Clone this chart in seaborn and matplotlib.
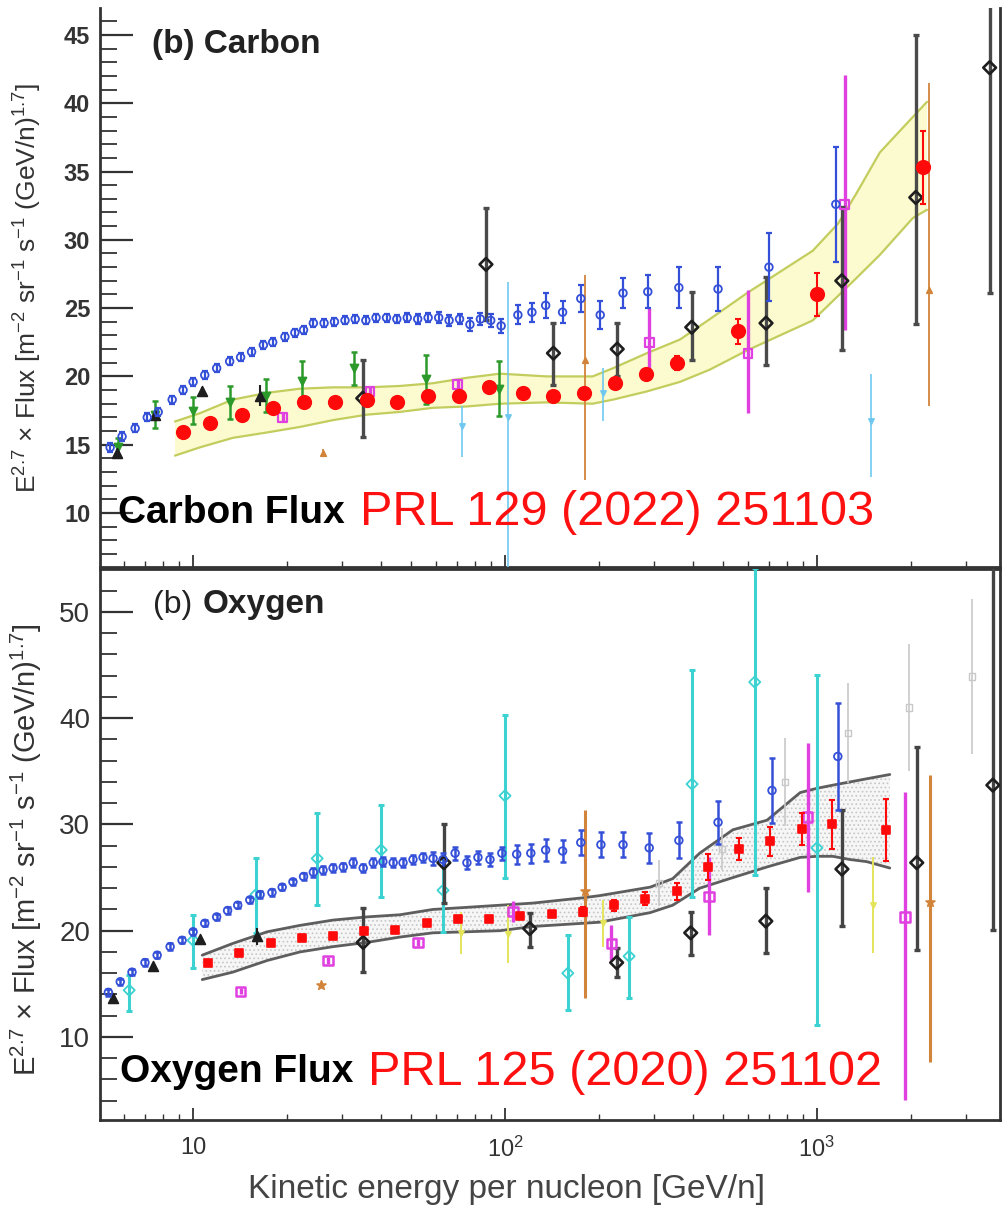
import matplotlib
matplotlib.use("Agg")
import matplotlib.pyplot as plt
import seaborn as sns
import pandas as pd
from matplotlib.ticker import MultipleLocator, LogLocator, NullFormatter, FixedLocator, FixedFormatter

sns.set_style("ticks")
plt.rcParams['font.family'] = ['Liberation Sans', 'DejaVu Sans']
plt.rcParams['mathtext.fontset'] = 'custom'
plt.rcParams['mathtext.rm'] = 'Liberation Sans'
plt.rcParams['mathtext.it'] = 'Liberation Sans:italic'
plt.rcParams['mathtext.bf'] = 'Liberation Sans:bold'
plt.rcParams['hatch.linewidth'] = 0.7
plt.rcParams['hatch.color'] = '#c4c4c4'

# ======================= CARBON PANEL DATA =======================
c_ams_E = [5.42, 5.92, 6.52, 7.13, 7.73, 8.57, 9.29, 10.0, 10.9, 11.9, 13.1, 14.2, 15.4, 16.8, 18.0, 19.7, 21.2, 22.6,
           24.3, 26.3, 28.4, 30.7, 33.1, 35.8, 38.6, 41.7, 45.0, 48.6, 52.5, 56.7, 61.3, 66.2, 71.5, 77.2, 83.4, 90.0, 97.2,
           110, 122, 135, 153, 175, 202, 239, 287, 361, 482, 702, 1150]
c_ams_v = [14.8, 15.6, 16.2, 17.0, 17.4, 18.3, 19.0, 19.6, 20.1, 20.6, 21.1, 21.4, 21.8, 22.3, 22.5, 22.9, 23.2, 23.4,
           23.9, 23.9, 24.0, 24.1, 24.2, 24.1, 24.3, 24.3, 24.2, 24.3, 24.2, 24.3, 24.3, 24.1, 24.2, 23.8, 24.2, 24.1, 23.7,
           24.5, 24.7, 25.2, 24.7, 25.7, 24.5, 26.1, 26.2, 26.5, 26.4, 28.0, 32.6]
c_ams_err = [0.3, 0.3, 0.3, 0.3, 0.3, 0.3, 0.3, 0.3, 0.3, 0.3, 0.3, 0.3, 0.3, 0.3, 0.3, 0.3, 0.3, 0.3,
             0.3, 0.3, 0.3, 0.3, 0.3, 0.3, 0.3, 0.3, 0.3, 0.35, 0.35, 0.35, 0.4, 0.4, 0.4, 0.45, 0.45, 0.5, 0.5,
             0.7, 0.7, 0.9, 0.8, 1.0, 1.0, 1.1, 1.2, 1.5, 1.6, 2.5, 4.2]

c_dampe_E = [9.29, 11.3, 14.4, 18.0, 22.6, 28.5, 36.1, 45.1, 56.6, 71.3, 89.0, 114, 143, 179, 225, 283, 356, 558, 1000, 2190]
c_dampe_v = [15.9, 16.6, 17.2, 17.7, 18.1, 18.1, 18.3, 18.1, 18.6, 18.6, 19.2, 18.8, 18.6, 18.8, 19.5, 20.2, 21.0, 23.3, 26.0, 35.3]
c_dampe_err = [0.1, 0.1, 0.1, 0.1, 0.1, 0.1, 0.1, 0.1, 0.1, 0.1, 0.15, 0.2, 0.2, 0.25, 0.3, 0.35, 0.5, 0.9, 1.6, 2.7]

c_band_E = [8.75, 10.5, 13.4, 17.3, 22.0, 28.1, 36.1, 46.0, 58.7, 75.5, 96.4, 136, 191, 222, 285, 364, 454, 597, 970, 1170, 1339, 1592, 2032, 2254]
c_band_hi = [16.7, 17.3, 18.3, 18.8, 19.1, 19.2, 19.2, 19.3, 19.5, 19.9, 20.2, 20.0, 20.0, 20.6, 21.7, 22.7, 24.2, 26.1, 29.2, 31.2, 33.4, 36.4, 39.0, 40.1]
c_band_lo = [14.2, 14.8, 15.5, 15.9, 16.3, 16.8, 17.2, 17.4, 17.7, 17.8, 18.0, 18.1, 18.0, 18.3, 18.9, 19.6, 20.5, 21.9, 24.1, 25.9, 27.2, 28.9, 31.6, 32.2]

c_green_E = [5.75, 7.55, 10.0, 13.1, 17.1, 22.3, 32.8, 55.8, 95.7]
c_green_v = [14.8, 17.2, 17.5, 18.1, 18.6, 19.7, 20.6, 19.8, 19.1]
c_green_err = [0.7, 1.0, 1.0, 1.2, 1.2, 1.4, 1.2, 1.8, 2.0]

c_tri_E = [5.7, 7.55, 10.7, 16.4]
c_tri_v = [14.4, 17.2, 18.9, 18.6]
c_tri_err = [0.3, 0.3, 0.3, 0.8]

c_dia_E = [35.0, 86.9, 143, 229, 397, 687, 1202, 2075, 3580]
c_dia_v = [18.4, 28.2, 21.7, 22.0, 23.6, 23.9, 27.0, 33.1, 42.6]
c_dia_lo = [2.8, 4.1, 2.3, 2.0, 2.4, 3.1, 5.1, 9.3, 16.5]
c_dia_hi = [2.8, 4.1, 2.2, 1.9, 2.6, 3.4, 5.4, 11.9, 12.0]

c_mag_E = [19.4, 36.9, 70.6, 290, 601, 1228]
c_mag_v = [17.0, 18.9, 19.4, 22.5, 21.7, 32.6]
c_mag_lo = [0.3, 0.3, 0.3, 2.4, 4.4, 9.2]
c_mag_hi = [0.3, 0.3, 0.4, 2.5, 4.6, 9.5]

c_sky_E = [72.8, 102, 206, 1490]
c_sky_v = [16.4, 17.0, 18.8, 16.7]
c_sky_lo = [2.3, 11.5, 2.1, 4.1]
c_sky_hi = [1.4, 9.9, 1.8, 3.5]

c_org_E = [26.1, 180, 2286]
c_org_v = [14.4, 21.2, 26.3]
c_org_lo = [0.3, 8.8, 8.5]
c_org_hi = [0.3, 6.2, 15.2]

# ======================= OXYGEN PANEL DATA =======================
o_ams_E = [5.35, 5.84, 6.37, 7.01, 7.67, 8.44, 9.22, 10.0, 10.9, 11.9, 12.9, 13.9, 15.2, 16.4, 17.9, 19.3, 20.9, 22.6,
           24.3, 26.1, 28.1, 30.3, 32.6, 35.1, 37.8, 40.6, 43.8, 47.1, 50.7, 54.6, 58.8, 63.3, 69.2, 75.5, 81.9, 89.5, 97.7,
           109, 121, 135, 153, 175, 203, 239, 290, 361, 482, 718, 1167]
o_ams_v = [14.2, 15.2, 16.1, 17.0, 17.7, 18.5, 19.1, 19.9, 20.7, 21.3, 21.9, 22.4, 22.9, 23.4, 23.6, 24.1, 24.6, 25.1,
           25.5, 25.7, 25.9, 26.0, 26.4, 25.9, 26.4, 26.5, 26.4, 26.4, 26.7, 26.9, 26.8, 26.7, 27.3, 26.4, 26.9, 26.7, 27.3,
           27.2, 27.3, 27.6, 27.5, 28.3, 28.1, 28.1, 27.8, 28.5, 30.2, 33.2, 36.4]
o_ams_err = [0.3, 0.3, 0.3, 0.3, 0.3, 0.3, 0.3, 0.3, 0.3, 0.3, 0.3, 0.3, 0.3, 0.3, 0.3, 0.3, 0.3, 0.3,
             0.4, 0.4, 0.4, 0.4, 0.4, 0.4, 0.4, 0.4, 0.4, 0.4, 0.4, 0.4, 0.6, 0.6, 0.6, 0.6, 0.6, 0.6, 0.6,
             0.9, 0.9, 1.0, 1.0, 1.2, 1.2, 1.2, 1.4, 1.7, 2.0, 3.1, 5.0]

o_dampe_E = [11.2, 14.0, 17.8, 22.3, 28.1, 35.3, 44.4, 56.2, 70.7, 89.0, 112, 142, 178, 223, 281, 356, 447, 562, 707, 895, 1117, 1664]
o_dampe_v = [17.0, 17.9, 18.8, 19.3, 19.5, 20.0, 20.1, 20.7, 21.1, 21.1, 21.4, 21.6, 21.8, 22.4, 23.0, 23.7, 26.0, 27.7, 28.4, 29.6, 30.0, 29.5]
o_dampe_err = [0.2, 0.2, 0.2, 0.2, 0.2, 0.2, 0.2, 0.3, 0.3, 0.3, 0.3, 0.3, 0.4, 0.5, 0.6, 0.8, 1.2, 1.0, 1.4, 1.5, 2.3, 2.9]

o_band_E = [10.7, 13.4, 17.3, 22.0, 28.1, 36.1, 46.0, 58.7, 75.5, 96.4, 123, 178, 201, 292, 345, 421, 538, 692, 884, 1000, 1125, 1276, 1445, 1713]
o_band_hi = [17.7, 18.8, 19.9, 20.5, 21.0, 21.3, 21.5, 22.0, 22.2, 22.4, 22.6, 23.1, 23.3, 24.1, 24.9, 27.3, 29.5, 30.4, 33.0, 33.4, 33.7, 34.0, 34.3, 34.7]
o_band_lo = [15.4, 16.1, 17.2, 18.0, 18.5, 18.9, 19.4, 19.8, 19.9, 20.0, 20.4, 20.7, 20.8, 21.7, 22.4, 24.0, 25.0, 26.0, 26.9, 27.0, 27.0, 26.7, 26.5, 25.9]

o_tri_E = [5.55, 7.45, 10.5, 16.0]
o_tri_v = [13.7, 16.7, 19.2, 19.5]
o_tri_err = [0.3, 0.3, 0.3, 0.8]

o_dia_E = [35.1, 63.7, 120, 228, 394, 686, 1203, 2090, 3666]
o_dia_v = [18.9, 26.4, 20.2, 17.0, 19.8, 20.9, 25.8, 26.4, 33.7]
o_dia_lo = [2.8, 3.8, 1.7, 1.4, 2.1, 3.0, 5.4, 8.2, 13.6]
o_dia_hi = [3.2, 3.6, 1.5, 1.4, 2.0, 3.1, 5.6, 10.9, 21.0]

o_cyan_E = [6.24, 10.0, 15.9, 25.0, 40.1, 63.3, 100, 159, 250, 398, 632, 1000]
o_cyan_v = [14.4, 19.1, 23.4, 26.8, 27.6, 23.8, 32.7, 16.0, 17.6, 33.8, 43.4, 27.8]
o_cyan_lo = [2.0, 2.6, 3.6, 4.4, 4.4, 3.9, 7.7, 3.5, 3.9, 10.6, 18.2, 16.7]
o_cyan_hi = [1.4, 2.4, 3.4, 4.3, 4.2, 3.0, 7.6, 3.6, 3.7, 10.7, 10.7, 16.3]

o_mag_E = [14.2, 27.1, 52.6, 106, 219, 451, 935, 1915]
o_mag_v = [14.3, 17.2, 18.9, 21.8, 18.8, 23.2, 30.7, 21.3]
o_mag_lo = [0.3, 0.3, 0.3, 1.0, 1.6, 3.6, 7.1, 17.2]
o_mag_hi = [0.3, 0.3, 0.3, 1.0, 1.7, 3.7, 7.0, 11.8]

o_org_E = [25.7, 180, 2300]
o_org_v = [14.9, 23.7, 22.7]
o_org_lo = [0.3, 10.0, 15.1]
o_org_hi = [0.3, 7.7, 12.0]

o_yel_E = [72.3, 102, 206, 1511]
o_yel_v = [19.8, 19.7, 20.7, 22.4]
o_yel_err = [2.0, 2.7, 2.2, 4.5]

o_grey_E = [312, 497, 789, 1256, 1972, 3140]
o_grey_v = [24.5, 27.7, 34.0, 38.6, 41.0, 43.9]
o_grey_err = [2.2, 2.0, 4.1, 4.7, 6.0, 7.3]

# ======================= STYLE =======================
BLUE = '#3550d8'
RED = '#ff0a0a'
GREEN = '#2b9a2b'
BLACK = '#1e1e1e'
MAG = '#e040e0'
SKY = '#70c8f0'
CYAN = '#3cd2d2'
ORANGE = '#d2843a'
YEL = '#e4e45a'
GREY = '#c8c8c8'
AXC = '#333333'


def points(ax, E, v, lo, hi, color, marker, s, filled=True, lw=1.2, elw=1.5,
           ecolor=None, cap=0.0, z=4):
    ax.errorbar(E, v, yerr=[lo, hi], fmt='none', ecolor=ecolor or color,
                elinewidth=elw, capsize=cap, capthick=elw, zorder=z)
    df = pd.DataFrame({'E': E, 'v': v})
    if filled:
        sns.scatterplot(data=df, x='E', y='v', ax=ax, marker=marker, s=s,
                        color=color, edgecolor=color, linewidth=lw,
                        zorder=z + 0.5, legend=False)
    else:
        sns.scatterplot(data=df, x='E', y='v', ax=ax, marker=marker, s=s,
                        color=color, facecolor='none', edgecolor=color,
                        linewidth=lw, zorder=z + 0.5, legend=False)


fig = plt.figure(figsize=(10.03, 12.13), dpi=100)
ax1 = fig.add_axes([0.0997, 0.5326, 0.8973, 0.4608])
ax2 = fig.add_axes([0.0997, 0.0767, 0.8973, 0.4543])

for ax in (ax1, ax2):
    ax.set_xscale('log')
    ax.set_xlim(5.03, 3864)

ax1.set_ylim(6.05, 46.97)
ax2.set_ylim(2.19, 54.05)

# ---------------- Carbon panel ----------------
ax1.fill_between(c_band_E, c_band_lo, c_band_hi, facecolor='#fbfbcf', edgecolor='none', zorder=1)
sns.lineplot(x=c_band_E, y=c_band_hi, ax=ax1, color='#c2cd5e', lw=1.6, sort=False, estimator=None, zorder=1.5)
sns.lineplot(x=c_band_E, y=c_band_lo, ax=ax1, color='#c2cd5e', lw=1.6, sort=False, estimator=None, zorder=1.5)

points(ax1, c_sky_E, c_sky_v, c_sky_lo, c_sky_hi, SKY, 'v', 14, elw=1.2, z=3)
points(ax1, c_org_E, c_org_v, c_org_lo, c_org_hi, ORANGE, '^', 16, elw=1.3, z=3)
points(ax1, c_green_E, c_green_v, c_green_err, c_green_err, GREEN, 'v', 34, elw=1.8, cap=2, z=3.2)
points(ax1, c_tri_E, c_tri_v, c_tri_err, c_tri_err, BLACK, '^', 50, elw=1.5, z=3.4)
points(ax1, c_mag_E, c_mag_v, c_mag_lo, c_mag_hi, MAG, 's', 40, filled=False, lw=1.6, elw=2.4, z=3.6)
points(ax1, c_dia_E, c_dia_v, c_dia_lo, c_dia_hi, BLACK, 'D', 42, filled=False, lw=1.9, elw=2.4,
       ecolor='#4a4a4a', cap=2, z=3.8)
points(ax1, c_ams_E, c_ams_v, c_ams_err, c_ams_err, BLUE, 'o', 30, filled=False, lw=1.3, elw=1.6, cap=2.2, z=4)
points(ax1, c_dampe_E, c_dampe_v, c_dampe_err, c_dampe_err, RED, 'o', 95, elw=1.5, cap=2, z=5)

# ---------------- Oxygen panel ----------------
ax2.fill_between(o_band_E, o_band_lo, o_band_hi, facecolor='#f6f6f6', edgecolor='#c6c6c6',
                 hatch='....', linewidth=0, zorder=1)
sns.lineplot(x=o_band_E, y=o_band_hi, ax=ax2, color='#5e5e5e', lw=2.0, sort=False, estimator=None, zorder=1.5)
sns.lineplot(x=o_band_E, y=o_band_lo, ax=ax2, color='#5e5e5e', lw=2.0, sort=False, estimator=None, zorder=1.5)

points(ax2, o_grey_E, o_grey_v, o_grey_err, o_grey_err, GREY, 's', 22, filled=False, lw=1.0, elw=1.2, z=2.5)
points(ax2, o_yel_E, o_yel_v, o_yel_err, o_yel_err, YEL, 'v', 14, elw=1.4, z=2.6)
points(ax2, o_org_E, o_org_v, o_org_lo, o_org_hi, ORANGE, '*', 45, elw=2.2, z=2.7)
points(ax2, o_cyan_E, o_cyan_v, o_cyan_lo, o_cyan_hi, CYAN, 'D', 32, filled=False, lw=1.3, elw=2.2, cap=2, z=3)
points(ax2, o_mag_E, o_mag_v, o_mag_lo, o_mag_hi, MAG, 's', 45, filled=False, lw=1.8, elw=2.4, z=3.2)
points(ax2, o_tri_E, o_tri_v, o_tri_err, o_tri_err, BLACK, '^', 50, elw=1.5, z=3.4)
points(ax2, o_dia_E, o_dia_v, o_dia_lo, o_dia_hi, BLACK, 'D', 42, filled=False, lw=1.9, elw=2.4,
       ecolor='#444444', cap=2, z=3.6)
points(ax2, o_ams_E, o_ams_v, o_ams_err, o_ams_err, BLUE, 'o', 30, filled=False, lw=1.3, elw=1.8, cap=2.2, z=4)
points(ax2, o_dampe_E, o_dampe_v, o_dampe_err, o_dampe_err, RED, 's', 38, elw=1.5, cap=2, z=5)

# ---------------- axes styling ----------------
for ax in (ax1, ax2):
    ax.set_xlabel('')
    ax.set_ylabel('')
    ax.xaxis.set_major_locator(FixedLocator([10, 100, 1000]))
    ax.xaxis.set_minor_locator(LogLocator(base=10, subs=(2, 3, 4, 5, 6, 7, 8, 9)))
    ax.xaxis.set_minor_formatter(NullFormatter())
    ax.tick_params(axis='y', which='major', direction='in', length=24, width=1.6,
                   left=True, right=False, colors=AXC, pad=7)
    ax.tick_params(axis='y', which='minor', direction='in', length=12, width=1.3,
                   left=True, right=False, colors=AXC)
    ax.tick_params(axis='x', which='major', direction='in', length=9, width=1.3,
                   bottom=True, top=False, colors=AXC)
    ax.tick_params(axis='x', which='minor', direction='in', length=4, width=1.0,
                   bottom=True, top=False, colors=AXC)
    for sp in ax.spines.values():
        sp.set_color(AXC)
        sp.set_linewidth(2.0)
        sp.set_visible(True)

ax1.spines['top'].set_visible(False)
ax1.xaxis.set_major_formatter(NullFormatter())
ax2.xaxis.set_major_formatter(FixedFormatter(['10', '10$^2$', '10$^3$']))
ax2.tick_params(axis='x', which='major', labelsize=17, pad=12, labelcolor='#333333')

ax1.yaxis.set_major_locator(MultipleLocator(5))
ax1.yaxis.set_minor_locator(MultipleLocator(1))
ax2.yaxis.set_major_locator(MultipleLocator(10))
ax2.yaxis.set_minor_locator(MultipleLocator(2))
ax1.tick_params(axis='y', which='major', labelsize=17, labelcolor='#333333')
for lab in ax1.get_yticklabels():
    lab.set_fontweight('bold')
ax2.tick_params(axis='y', which='major', labelsize=20, labelcolor='#333333')

ylab = r'E$^{2.7}$ $\times$ Flux [m$^{-2}$ sr$^{-1}$ s$^{-1}$ (GeV/n)$^{1.7}$]'
ax1.set_ylabel(ylab, fontsize=19, color='#333333')
ax1.yaxis.set_label_coords(-0.062, 0.50)
ax2.set_ylabel(ylab, fontsize=21, color='#333333')
ax2.yaxis.set_label_coords(-0.062, 0.49)

fig.text(0.505, 0.019, 'Kinetic energy per nucleon [GeV/n]', ha='center', va='center',
         fontsize=24, color='#444444')

# panel labels
ax1.text(0.058, 0.934, '(b) Carbon', transform=ax1.transAxes, fontsize=24,
         fontweight='bold', color='#222222', ha='left', va='center')
ax2.text(0.059, 0.935, '(b)', transform=ax2.transAxes, fontsize=23,
         color='#222222', ha='left', va='center')
ax2.text(0.114, 0.935, 'Oxygen', transform=ax2.transAxes, fontsize=24,
         fontweight='bold', color='#222222', ha='left', va='center')

# big annotations
ax1.text(0.020, 0.097, 'Carbon Flux', transform=ax1.transAxes, fontsize=28,
         fontweight='bold', color='black', ha='left', va='center', zorder=10)
ax1.text(0.289, 0.097, 'PRL 129 (2022) 251103', transform=ax1.transAxes, fontsize=35,
         color='#ff1010', ha='left', va='center', zorder=10)
ax2.text(0.022, 0.087, 'Oxygen Flux', transform=ax2.transAxes, fontsize=28,
         fontweight='bold', color='black', ha='left', va='center', zorder=10)
ax2.text(0.298, 0.087, 'PRL 125 (2020) 251102', transform=ax2.transAxes, fontsize=35,
         color='#ff1010', ha='left', va='center', zorder=10)

fig.savefig('out.png', dpi=100)
